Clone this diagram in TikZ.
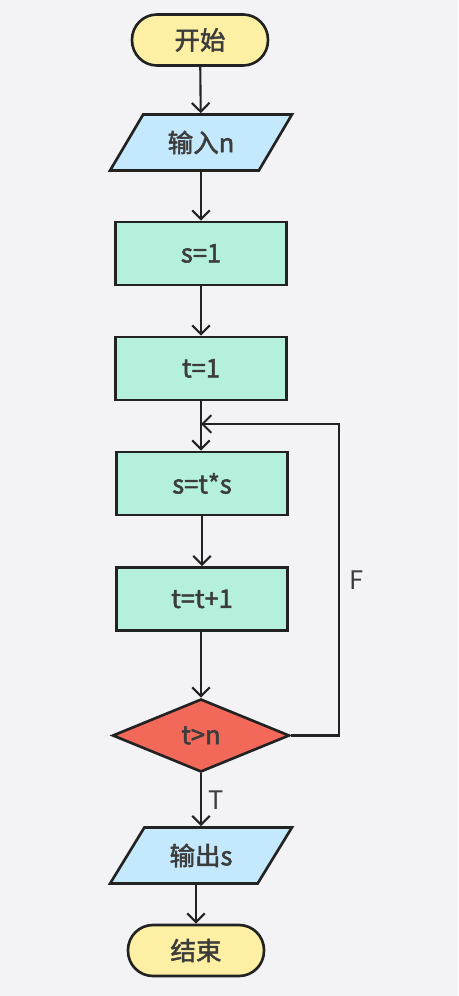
\documentclass[tikz,border=0pt]{standalone}
\usepackage{fontspec}
\setmainfont{Noto Sans CJK SC}
\newfontfamily\medfont{Noto Sans CJK SC}[FakeBold=2]
\usetikzlibrary{shapes.geometric,arrows.meta}
\definecolor{bgc}{HTML}{F3F3F6}
\definecolor{termc}{HTML}{FDEFA3}
\definecolor{ioc}{HTML}{C4E8FC}
\definecolor{procc}{HTML}{B4F0DC}
\definecolor{decc}{HTML}{F2695A}
\definecolor{txtc}{HTML}{3C3C3C}
\definecolor{linec}{HTML}{222222}
\tikzset{
  base/.style={draw=linec, line width=1.5pt, text=txtc, font=\fontsize{14.5}{16}\selectfont\medfont, inner sep=0pt},
  term/.style={base, fill=termc, rectangle, rounded corners=0.5cm, minimum width=2.72cm, minimum height=1.02cm},
  io/.style={base, fill=ioc, trapezium, trapezium left angle=51, trapezium right angle=129, trapezium stretches=true, minimum width=3.64cm, minimum height=1.12cm},
  proc/.style={base, fill=procc, rectangle, minimum width=3.42cm, minimum height=1.26cm},
  dec/.style={base, fill=decc, diamond, minimum width=3.54cm, minimum height=1.46cm},
  arr/.style={draw=linec, line width=1.2pt, -{Straight Barb[length=5pt,width=10pt]}},
  ln/.style={draw=linec, line width=1.2pt},
  lbl/.style={text=txtc, font=\fontsize{14.5}{16}\selectfont}
}
\begin{document}
\begin{tikzpicture}[x=0.02cm,y=-0.02cm]
\useasboundingbox[fill=bgc] (0,0) rectangle (458,996);
\node[term] (start) at (200,40) {开始};
\node[io] (in) at (201,142.5) {输入n};
\node[proc] (s1) at (201,253.5) {s=1};
\node[proc] (t1) at (201,368.5) {t=1};
\node[proc] (sts) at (202,483.5) {s=t*s};
\node[proc] (tt1) at (202,599) {t=t+1};
\node[dec] (cond) at (201,735.5) {t>n};
\node[io] (out) at (201,855.5) {输出s};
\node[term] (end) at (196,950.5) {结束};
\coordinate (join) at (201,424);
\node[lbl] (F) at (357,580) {F};
\node[lbl] (T) at (216,800) {T};
\draw[arr] (start) -- (in);
\draw[arr] (in.south -| s1) -- (s1);
\draw[arr] (s1) -- (t1);
\draw[ln] (t1.south) -- (join);
\draw[arr] (join) -- (sts.north -| join);
\draw[arr] (sts) -- (tt1.north -| sts);
\draw[arr] (tt1.south -| cond) -- (cond);
\draw[arr] (cond) -- (out.north -| cond);
\draw[arr] (out.south -| end) -- (end);
\draw[arr] (cond.east) -- ++(48,0) |- (join);
\end{tikzpicture}
\end{document}
